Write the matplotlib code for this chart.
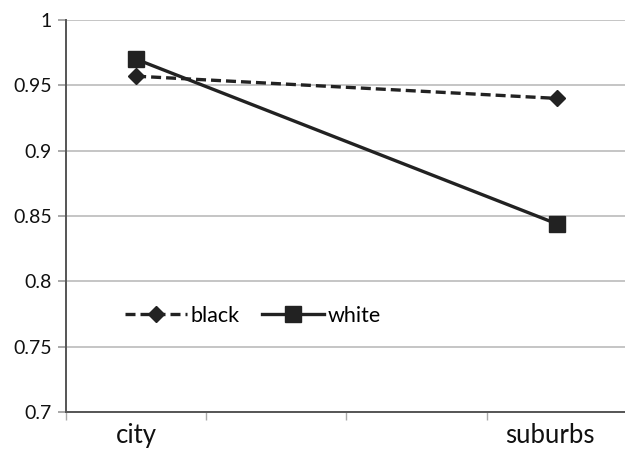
import matplotlib
matplotlib.use("Agg")
import matplotlib.pyplot as plt
import numpy as np

categories = ["city", "suburbs"]
cat_pos = [0, 3]
black = [0.957, 0.940]
white = [0.970, 0.844]

plt.rcParams['font.family'] = ['Lato', 'DejaVu Sans']

fig = plt.figure(figsize=(6.25, 4.5), dpi=100)
ax = fig.add_axes([66/625, 38/450, 561/625, 392/450])

c = "#222222"
ax.plot(cat_pos, black, color=c, lw=2.4, ls=(0, (3, 1.5)), marker="D", ms=8.5,
        markeredgecolor=c, markerfacecolor=c, label="black")
ax.plot(cat_pos, white, color=c, lw=2.4, ls="-", marker="s", ms=12,
        markeredgecolor=c, markerfacecolor=c, label="white")

ax.set_ylim(0.7, 1.0)
ax.set_yticks(np.arange(0.7, 1.0001, 0.05))
ax.set_yticklabels(["0.7", "0.75", "0.8", "0.85", "0.9", "0.95", "1"])
ax.set_xlim(-0.5, 3.5)
ax.set_xticks([-0.5, 0.5, 1.5, 2.5, 3.5])
ax.set_xticklabels([])
label_shift = [0.0, -0.05]
for xp, lab, sh in zip(cat_pos, categories, label_shift):
    ax.text(xp + sh, -0.08, lab, transform=ax.get_xaxis_transform(), ha="center",
            va="baseline", fontsize=18.5, color="#111111")

ax.grid(axis="y", color="#bbbbbb", lw=1.2)
ax.set_axisbelow(True)
for s in ["top", "right"]:
    ax.spines[s].set_visible(False)
for s in ["left", "bottom"]:
    ax.spines[s].set_color("#555555")
    ax.spines[s].set_linewidth(1.4)
ax.tick_params(axis="y", length=6, width=1.2, color="#999999", labelsize=14,
               labelcolor="#111111", pad=4)
ax.tick_params(axis="x", length=6, width=1.0, color="#aaaaaa")

leg = ax.legend(loc="center left", bbox_to_anchor=(0.07, 0.245), ncol=2,
                frameon=False, fontsize=15.5, handlelength=2.9, columnspacing=1.05,
                handletextpad=0.15)

fig.savefig("out.png", dpi=100)
